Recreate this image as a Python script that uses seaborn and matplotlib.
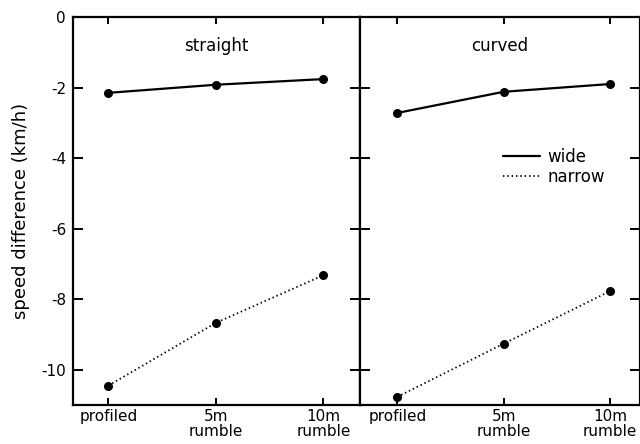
import matplotlib
matplotlib.use("Agg")
import matplotlib.pyplot as plt
import seaborn as sns
import pandas as pd
from matplotlib.lines import Line2D

categories = ["profiled", "5m\nrumble", "10m\nrumble"]
straight_wide = [-2.15, -1.92, -1.76]
straight_narrow = [-10.45, -8.67, -7.32]
curved_wide = [-2.72, -2.12, -1.9]
curved_narrow = [-10.77, -9.26, -7.77]
panels = ["straight", "curved"]
yticks = [0, -2, -4, -6, -8, -10]

sns.set_style("ticks")
plt.rcParams["font.family"] = ["DejaVu Sans"]
plt.rcParams.update({"text.color": "black", "axes.labelcolor": "black",
                     "xtick.color": "black", "ytick.color": "black",
                     "axes.edgecolor": "black"})

rows = []
for panel, wide, narrow in [("straight", straight_wide, straight_narrow),
                            ("curved", curved_wide, curved_narrow)]:
    for i, c in enumerate(categories):
        rows.append(dict(panel=panel, x=i, road="wide", speed=wide[i]))
        rows.append(dict(panel=panel, x=i, road="narrow", speed=narrow[i]))
df = pd.DataFrame(rows)

fig = plt.figure(figsize=(6.4, 4.44), dpi=100)
ax1 = fig.add_axes([73/640, 1-405/444, 287/640, 388/444])
ax2 = fig.add_axes([360/640, 1-405/444, 280/640, 388/444], sharey=ax1)

dotted = (0, (0.8, 1.6))
xlims = [(-0.33, 2.34), (-0.35, 2.28)]
for ax, panel, xl in zip([ax1, ax2], panels, xlims):
    d = df[df.panel == panel]
    for road, ls in [("wide", "-"), ("narrow", dotted)]:
        dd = d[d.road == road]
        sns.lineplot(data=dd, x="x", y="speed", ax=ax, color="black",
                     linestyle=ls, linewidth=1.6 if road == "wide" else 1.3,
                     marker="o", markersize=6.5, markeredgewidth=0,
                     label=road, legend=False)
    ax.set_xlim(*xl)
    ax.set_ylim(-11, 0)
    ax.set_xticks(range(len(categories)))
    ax.set_xticklabels(categories, fontsize=11, linespacing=0.95)
    ax.set_yticks(yticks)
    ax.set_xlabel("")
    ax.set_ylabel("")
    ax.text(0.5, 0.925, panel, transform=ax.transAxes, ha="center", va="center",
            fontsize=12, color="black")
    for s in ax.spines.values():
        s.set_visible(True)
        s.set_linewidth(1.6)
        s.set_color("black")
    ax.tick_params(axis="x", direction="in", length=5, width=1.4, top=True,
                   bottom=True, pad=3, colors="black")
    ax.tick_params(axis="y", direction="in", length=7, width=1.4, left=True,
                   right=True, labelsize=11, pad=5, colors="black")

ax1.set_yticklabels([str(t) if t == 0 else "-" + str(-t) for t in yticks])
ax2.tick_params(axis="y", labelleft=False)
ax1.set_ylabel("speed difference (km/h)", fontsize=13, labelpad=8,
               color="black")

handles = [Line2D([], [], color="black", lw=1.6, ls="-"),
           Line2D([], [], color="black", lw=1.3, ls=dotted)]
fig.legend(handles, ["wide", "narrow"], loc="upper left",
           bbox_to_anchor=(503/640, 1-148/444), frameon=False, fontsize=12,
           handlelength=2.2, handletextpad=0.45, labelspacing=0.1,
           borderaxespad=0, borderpad=0, labelcolor="black")

fig.savefig("out.png", dpi=100)
